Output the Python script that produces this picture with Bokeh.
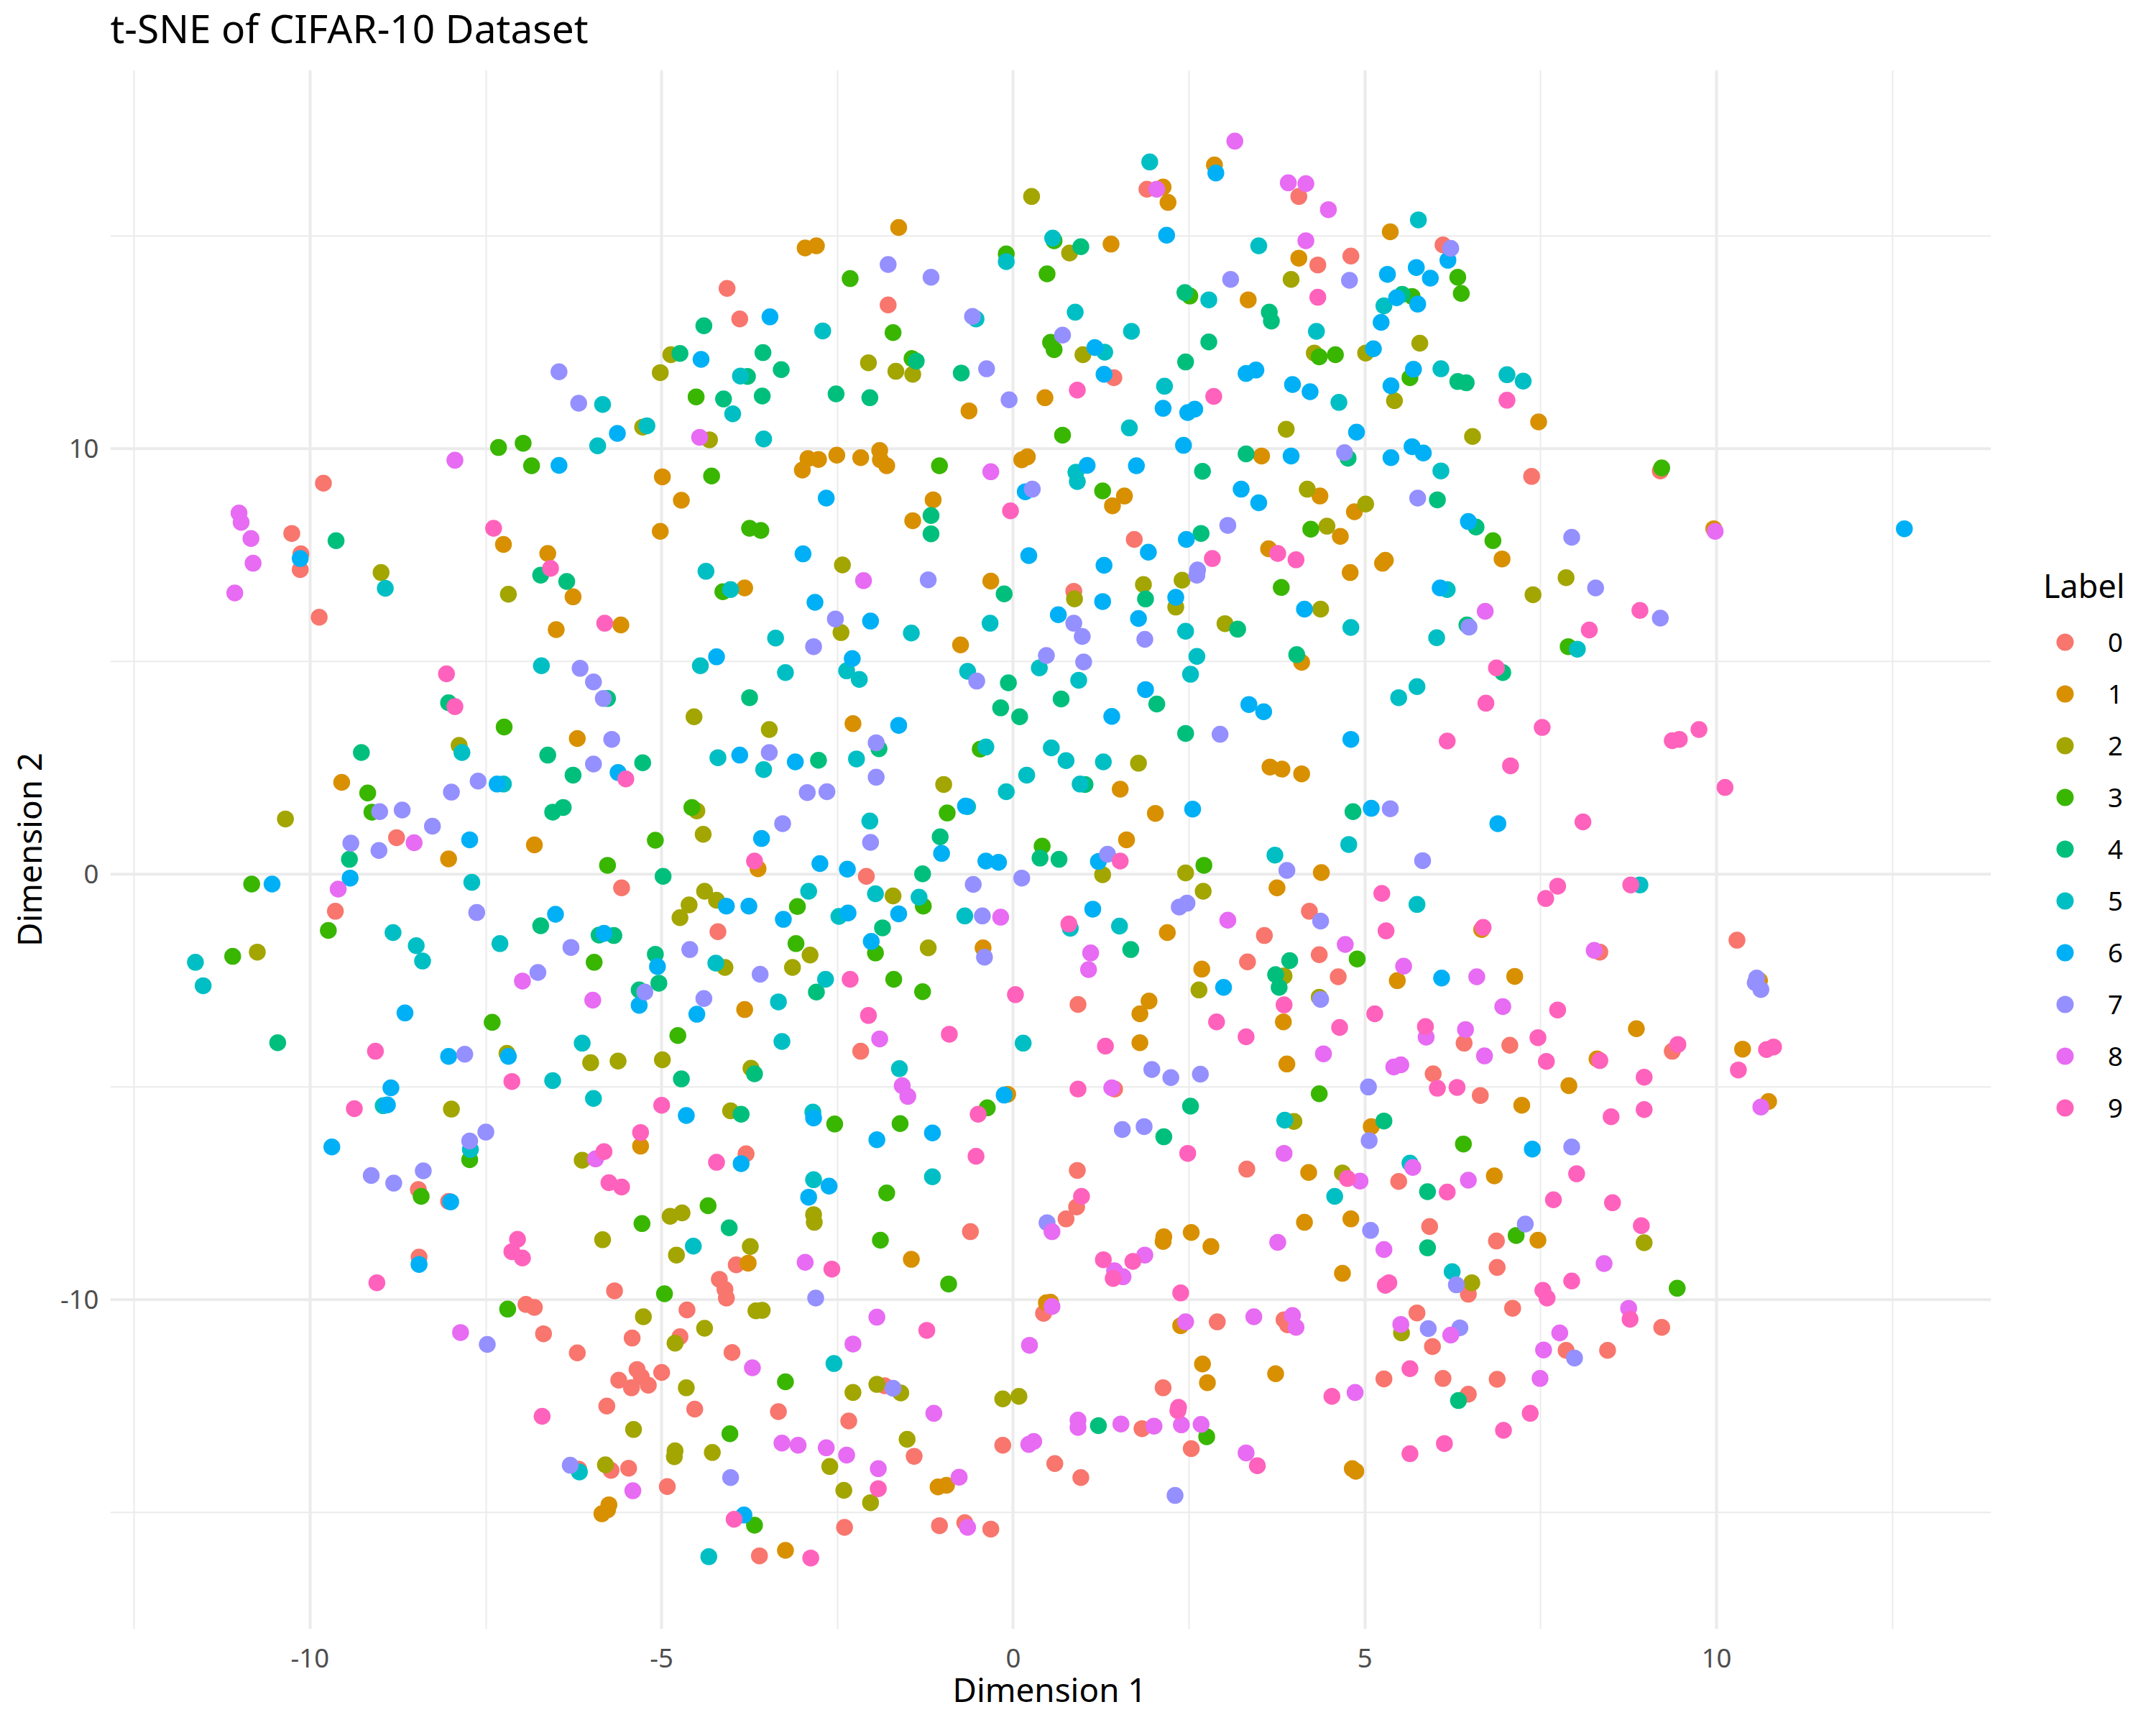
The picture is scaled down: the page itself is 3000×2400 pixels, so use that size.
from bokeh.plotting import figure
from bokeh.models import FixedTicker, Label, Legend, LegendItem, Range1d
from bokeh.embed import file_html
from bokeh.resources import INLINE

TITLE = "t-SNE of CIFAR-10 Dataset"
X_TITLE = "Dimension 1"
Y_TITLE = "Dimension 2"
LEGEND_TITLE = "Label"
LABELS = ["0", "1", "2", "3", "4", "5", "6", "7", "8", "9"]
COLORS = ["#F8766D", "#D89000", "#A3A500", "#39B600", "#00BF7D",
          "#00BFC4", "#00B0F6", "#9590FF", "#E76BF3", "#FF62BC"]

label_0 = [(-9.81,9.19),(-10.26,8.01),(-10.13,7.53),(-10.14,7.16),(-9.87,6.04),(-8.77,0.86),(-5.57,-0.32),
(-9.64,-0.87),(-8.46,-7.41),(-8.03,-7.69),(-8.45,-9.0),(-5.67,-9.79),(-6.93,-10.11),(-6.81,-10.18),(-3.94,-9.18),
(-4.18,-9.52),(-4.1,-9.76),(-4.08,-9.96),(-4.64,-10.24),(-6.68,-10.8),(-6.2,-11.25),(-5.42,-10.9),(-4.74,-10.87),
(-4.0,-11.24),(-5.0,-11.71),(-5.35,-11.64),(-5.29,-11.81),(-5.61,-11.89),(-5.43,-12.07),(-5.19,-12.01),(-5.78,-12.5),
(-4.53,-12.57),(-3.34,-12.63),(-2.34,-12.85),(-6.18,-13.98),(-5.72,-14.01),(-5.47,-13.96),(-4.92,-14.39),(-2.4,-15.35),
(-3.61,-16.02),(-1.05,-15.31),(-0.69,-15.24),(-0.32,-15.39),(-0.15,-13.42),(-1.83,-12.02),(-1.41,-13.68),
(-4.07,13.77),(-3.89,13.05),(-1.78,13.38),(1.43,11.67),(0.86,6.65),(1.72,7.87),(-2.09,-0.05),(-4.2,-1.35),(0.92,-3.06),
(-2.17,-4.16),(1.44,-5.05),(0.91,-6.96),(-3.8,-6.57),(0.9,-7.82),(0.75,-8.1),(-0.61,-8.4),(1.9,16.1),(4.06,15.93),
(4.33,14.32),(4.8,14.53),(6.11,14.79),(7.37,9.35),(4.21,-0.87),(3.57,-1.44),(3.33,-2.06),(4.35,-1.89),(4.62,-2.41),
(8.34,-1.83),(3.32,-6.93),(5.97,-4.69),(6.41,-3.97),(7.06,-4.02),(6.64,-5.2),(9.37,-4.16),(5.48,-7.22),(5.92,-8.28),
(6.87,-8.62),(6.88,-9.24),(6.47,-9.87),(7.1,-10.2),(5.74,-10.31),(9.22,-10.65),(2.9,-10.52),(3.85,-10.47),(3.9,-10.59),
(5.96,-11.1),(7.86,-11.19),(8.45,-11.19),(5.27,-11.86),(6.11,-11.85),(6.88,-11.87),(6.47,-12.22),(2.13,-12.07),
(1.83,-13.03),(2.53,-13.5),(0.96,-14.18),(9.2,9.48),(10.29,-1.55),(0.43,-10.32),(0.59,-13.85)]

label_1 = [(-4.99,9.34),(-4.72,8.79),(-5.02,8.06),(-7.25,7.75),(-6.62,7.54),(-6.26,6.52),(-6.5,5.75),(-5.58,5.86),
(-6.2,3.19),(-9.55,2.16),(-6.81,0.69),(-8.03,0.36),(-5.3,-6.39),(-3.77,-9.14),(-1.45,-9.05),(-5.75,-14.82),(-5.77,-14.94),
(-5.85,-15.03),(-1.07,-14.4),(-0.95,-14.36),(-3.24,-15.89),(-1.63,15.2),(-2.96,14.72),(-2.8,14.77),(1.39,14.81),(0.45,11.2),
(-0.63,10.89),(-2.51,9.85),(-2.92,9.77),(-2.77,9.75),(-3.0,9.5),(-2.17,9.79),(-1.9,9.96),(-1.89,9.74),(-1.8,9.6),(0.12,9.74),
(0.2,9.81),(-0.32,6.89),(-1.14,8.8),(-1.43,8.31),(1.41,8.66),(1.58,8.89),(-3.82,6.73),(-0.75,5.39),(-2.28,3.54),(-3.63,0.13),
(1.52,2.0),(1.61,0.81),(-0.43,-1.73),(-3.82,-3.18),(1.8,-3.28),(1.93,-2.98),(1.8,-3.96),(-0.08,-5.17),(2.86,16.67),(2.13,16.15),
(2.2,15.79),(5.36,15.1),(4.06,14.48),(3.34,13.5),(7.47,10.63),(3.53,9.83),(4.36,8.89),(4.85,8.52),(4.65,7.94),(3.63,7.65),
(6.95,7.41),(5.29,7.38),(5.25,7.31),(4.79,7.09),(4.1,4.98),(3.65,2.52),(3.82,2.47),(4.1,2.36),(2.02,1.43),(4.38,0.04),(3.75,-0.32),
(2.19,-1.37),(2.68,-2.23),(5.46,-2.5),(6.66,-1.3),(7.13,-2.4),(3.84,-3.47),(3.89,-4.46),(8.86,-3.63),(8.3,-4.34),(7.23,-5.43),
(7.9,-4.97),(10.37,-4.11),(4.2,-7.01),(6.84,-7.09),(5.09,-5.93),(4.14,-8.18),(4.8,-8.1),(2.53,-8.42),(2.14,-8.52),(2.13,-8.63),
(2.81,-8.75),(7.46,-8.6),(4.68,-9.38),(2.38,-10.61),(2.69,-11.51),(3.73,-11.74),(2.76,-11.95),(4.82,-13.97),(4.87,-14.03),
(10.61,-2.5),(10.74,-5.34),(0.47,-10.07),(0.53,-10.06),(9.96,8.12)]

label_2 = [(-8.99,7.09),(-7.18,6.58),(-7.88,3.03),(-10.35,1.3),(-10.75,-1.83),(-7.2,-4.21),(-6.01,-4.43),(-5.62,-4.39),(-4.99,-4.36),
(-7.99,-5.52),(-6.13,-6.72),(-4.88,-8.04),(-4.71,-7.96),(-5.84,-8.59),(-4.79,-8.95),(-5.26,-10.4),(-4.39,-10.67),(-3.66,-10.26),
(-3.57,-10.25),(-4.81,-11.02),(-4.65,-12.07),(-5.4,-13.05),(-4.81,-13.55),(-4.82,-13.69),(-4.28,-13.59),(-5.8,-13.88),(-2.61,-13.92),
(-2.41,-14.48),(-2.03,-14.77),(-2.28,-12.18),(-1.94,-11.99),(-1.6,-12.19),(-1.51,-13.28),(-0.15,-12.33),(-4.87,12.21),(-5.02,11.79),
(-2.06,12.02),(-1.67,11.82),(-1.43,11.75),(0.8,14.6),(0.99,12.21),(-5.27,10.51),(-4.32,10.21),(-2.43,7.27),(0.87,6.47),(1.85,6.81),
(-2.45,5.68),(-4.54,3.7),(-3.47,3.4),(-0.99,2.11),(-4.5,1.49),(-4.41,0.94),(-4.39,-0.4),(-4.22,-0.61),(-4.61,-0.72),(-4.74,-1.02),
(-1.71,-0.51),(-2.89,-1.9),(-3.14,-2.19),(-4.1,-2.19),(-1.21,-1.73),(1.78,2.61),(1.27,-0.01),(-3.73,-4.56),(-4.02,-5.56),(-2.84,-8.0),
(-2.83,-8.18),(-3.74,-8.75),(0.26,15.93),(3.95,13.98),(4.28,12.25),(5.01,12.25),(5.78,12.48),(3.88,10.46),(5.42,11.13),(6.53,10.29),
(4.18,9.05),(5.01,8.7),(4.46,8.18),(2.4,6.91),(2.31,6.28),(4.37,6.23),(3.01,5.89),(7.86,6.97),(7.39,6.57),(2.45,0.03),(2.7,-0.4),
(3.85,-2.39),(2.64,-2.72),(4.35,-2.89),(3.99,-5.81),(4.68,-7.02),(8.97,-8.66),(6.52,-9.6),(5.52,-10.78),(0.08,-12.27)]

label_3 = [(-6.85,9.6),(-7.24,3.46),(-9.18,1.91),(-9.12,1.46),(-5.09,0.8),(-5.77,0.21),(-10.83,-0.23),(-11.1,-1.93),(-9.74,-1.32),
(-5.96,-2.07),(-7.41,-3.48),(-4.77,-3.79),(-8.42,-7.57),(-7.73,-6.71),(-5.28,-8.21),(-4.96,-9.86),(-7.19,-10.22),(-0.92,-9.63),
(-3.24,-11.93),(-4.03,-13.15),(-3.68,-15.3),(-2.32,14.0),(-0.1,14.58),(0.58,14.89),(0.48,14.11),(-1.71,12.73),(0.53,12.5),(0.58,12.33),
(-1.44,12.12),(-4.51,11.22),(0.7,10.32),(-4.29,9.36),(-1.05,9.6),(-3.75,8.13),(-3.59,8.08),(1.27,9.01),(-4.13,6.64),(-4.57,1.57),
(-0.47,2.94),(-0.94,1.44),(-3.07,-0.76),(-1.28,-0.75),(-3.09,-1.63),(-1.96,-1.85),(-1.7,-2.47),(-1.29,-2.76),(0.41,0.66),(-2.54,-5.87),
(-1.61,-5.86),(-0.37,-5.49),(-1.8,-7.49),(-1.89,-8.6),(-4.34,-7.79),(2.51,13.59),(4.35,12.16),(4.58,12.21),(5.67,13.58),(6.32,14.03),
(6.37,13.65),(5.64,11.67),(4.23,8.11),(6.82,7.84),(3.81,6.74),(2.71,0.21),(7.89,5.35),(4.89,-1.99),(4.35,-5.16),(6.4,-6.34),(7.15,-8.49),
(9.44,-9.73),(2.75,-13.22),(-7.32,10.03),(-6.97,10.13),(9.22,9.55)]

label_4 = [(-9.63,7.84),(-6.72,7.03),(-6.35,6.88),(-5.77,4.13),(-8.03,4.03),(-9.27,2.86),(-6.62,2.8),(-6.26,2.33),(-5.27,2.62),(-6.4,1.57),
(-6.55,1.46),(-9.44,0.35),(-4.98,-0.05),(-6.72,-1.21),(-5.89,-1.43),(-5.68,-1.44),(-5.09,-1.88),(-5.04,-2.56),(-5.32,-2.72),(-10.46,-3.96),
(-4.72,-4.81),(-4.4,12.89),(-4.74,12.24),(-3.56,12.26),(-3.3,11.86),(-3.78,11.7),(-1.38,12.06),(-0.74,11.78),(0.96,14.75),(-3.57,11.24),
(-4.12,11.17),(-2.52,11.29),(-2.04,11.2),(-1.17,8.43),(-1.17,8.0),(-0.13,6.59),(1.88,6.47),(-3.75,4.15),(-2.77,2.68),(-1.91,2.95),(-0.07,4.5),
(-0.18,3.91),(0.09,3.7),(0.68,4.12),(1.02,2.11),(-1.04,0.88),(0.38,0.38),(0.65,0.35),(-1.29,0.01),(-1.86,-1.26),(-2.8,-2.77),(1.67,-1.77),
(-3.68,-4.69),(-3.87,-5.64),(-4.04,-8.31),(2.44,13.67),(3.64,13.21),(3.67,13.0),(2.78,12.51),(2.45,12.04),(5.53,13.63),(6.32,11.58),(6.44,11.55),
(3.31,9.88),(2.69,9.47),(6.03,8.8),(4.76,9.78),(2.67,8.01),(6.58,8.16),(3.19,5.76),(4.03,5.16),(6.45,5.86),(2.04,4.0),(2.45,3.31),(4.83,1.47),
(3.93,-2.03),(3.73,-2.36),(3.78,-2.66),(6.96,4.74),(2.52,-5.45),(2.14,-6.17),(5.27,-5.8),(5.89,-7.46),(5.89,-8.78),(1.21,-12.96),(6.33,-12.37)]

label_5 = [(-8.93,6.72),(-6.71,4.9),(-7.84,2.86),(-7.25,2.12),(-7.7,-0.19),(-11.63,-2.07),(-11.52,-2.62),(-8.82,-1.37),(-8.49,-1.68),(-8.4,-2.04),
(-7.3,-1.63),(-6.13,-3.97),(-6.55,-4.85),(-5.97,-5.27),(-8.96,-5.44),(-7.72,-6.47),(-6.17,-14.05),(-4.33,-16.04),(-2.55,-11.5),(-5.84,11.04),
(-5.91,10.07),(-5.21,10.54),(-3.99,10.82),(-3.55,10.23),(-3.88,11.71),(-2.71,12.77),(-0.53,13.05),(-0.1,14.4),(0.56,14.95),(0.88,13.21),
(1.68,12.76),(1.3,12.27),(1.65,10.49),(0.89,9.45),(0.91,9.23),(-4.37,7.12),(-4.02,6.69),(-3.38,5.55),(-1.45,5.67),(-0.33,5.9),(-4.45,4.9),
(-3.24,4.74),(-2.37,4.78),(-2.19,4.58),(-0.65,4.77),(0.37,4.85),(0.93,4.56),(-4.2,2.74),(-3.55,2.46),(-2.23,2.71),(-0.39,2.99),(0.54,2.97),
(0.75,2.67),(1.28,2.64),(0.19,2.33),(-0.1,1.94),(0.95,2.12),(-0.65,1.59),(-2.04,1.25),(-2.91,-0.4),(-1.96,-0.46),(-1.34,-0.54),(-2.48,-0.99),
(-0.69,-0.98),(0.81,-1.27),(1.51,-1.22),(-4.23,-2.09),(-2.67,-2.47),(-3.34,-3.0),(-3.29,-3.93),(0.14,-3.97),(-1.62,-4.57),(-2.85,-5.59),
(-2.84,-7.18),(-1.15,-7.11),(-4.55,-8.74),(1.94,16.74),(3.49,14.77),(5.76,15.38),(2.78,13.5),(4.31,12.76),(6.08,11.88),(5.27,13.36),(2.15,11.47),
(4.63,11.09),(7.02,11.74),(7.25,11.59),(6.08,9.48),(6.17,6.69),(4.8,5.8),(2.45,5.71),(2.61,5.12),(2.52,4.7),(6.02,5.56),(5.74,4.41),(5.48,4.15),
(8.02,5.29),(3.72,0.45),(4.77,0.7),(5.74,-0.71),(8.91,-0.25),(3.86,-5.78),(5.64,-6.79),(4.57,-7.57),(6.24,-9.34)]

label_6 = [(-6.46,9.61),(-10.14,7.42),(-7.34,2.12),(-5.62,2.39),(-7.73,0.81),(-9.43,-0.09),(-10.54,-0.23),(-6.51,-0.94),(-5.82,-1.39),(-5.06,-2.17),
(-5.32,-3.08),(-8.65,-3.26),(-8.03,-4.28),(-7.18,-4.28),(-8.85,-5.02),(-8.9,-5.42),(-9.69,-6.41),(-4.65,-5.67),(-8.0,-7.7),(-8.45,-9.17),(-3.83,-15.06),
(-3.46,13.1),(-4.44,12.1),(-5.63,10.36),(1.16,12.38),(1.29,11.75),(1.05,9.61),(1.75,9.6),(0.17,8.99),(-2.66,8.84),(-2.99,7.53),(0.22,7.49),(1.29,7.26),
(1.92,7.57),(-2.82,6.39),(-2.03,5.95),(0.64,6.1),(1.27,6.41),(1.78,6.01),(-4.22,5.11),(-2.29,5.07),(-1.63,3.5),(1.88,4.34),(1.4,3.71),(-3.58,0.84),
(-1.02,0.49),(-2.75,0.25),(-2.36,0.12),(-0.39,0.31),(-0.21,0.28),(1.21,0.3),(-4.08,-0.75),(-3.76,-0.75),(-3.27,-1.06),(-2.35,-0.91),(-1.63,-0.93),
(1.13,-0.82),(-2.02,-1.58),(-3.89,2.8),(-3.1,2.64),(-4.5,-3.29),(-0.68,1.6),(-2.84,-5.73),(-1.94,-6.24),(-1.15,-6.08),(-0.13,-5.19),(-3.87,-6.8),
(-2.62,-7.33),(-2.91,-7.59),(2.88,16.48),(2.18,15.02),(5.32,14.1),(5.73,14.26),(5.93,14.01),(6.18,14.43),(5.45,13.55),(5.75,13.4),(5.23,12.97),
(5.12,12.35),(3.31,11.77),(3.45,11.85),(3.97,11.51),(4.22,11.34),(5.69,11.87),(5.37,11.48),(2.13,10.95),(2.58,10.93),(2.48,10.85),(4.88,10.39),
(2.42,10.08),(3.95,9.83),(5.37,9.79),(5.67,10.05),(5.83,9.9),(3.24,9.05),(3.49,8.73),(6.47,8.29),(2.46,7.87),(2.31,6.51),(4.14,6.23),(6.07,6.73),
(3.35,3.99),(3.56,3.82),(4.8,3.17),(2.55,1.53),(5.09,1.55),(6.89,1.19),(2.99,-2.66),(6.09,-2.44),(7.38,-6.46),(12.67,8.12)]

label_7 = [(-6.16,4.84),(-5.97,4.52),(-5.83,4.13),(-5.71,3.17),(-5.97,2.59),(-7.61,2.19),(-7.99,1.93),(-9.01,1.47),(-8.69,1.51),(-8.26,1.13),(-9.42,0.73),
(-9.02,0.56),(-7.63,-0.9),(-6.29,-1.72),(-6.76,-2.31),(-5.24,-2.77),(-7.8,-4.23),(-7.5,-6.06),(-7.73,-6.27),(-8.39,-6.97),(-9.13,-7.08),(-8.81,-7.26),
(-7.48,-11.05),(-6.3,-13.89),(-4.02,-14.18),(-2.81,-9.96),(-1.71,-12.08),(-1.78,14.33),(-1.17,14.03),(-0.58,13.11),(-0.38,11.88),(0.7,12.67),(-0.06,11.15),
(-6.18,11.07),(-6.46,11.81),(0.27,9.05),(-1.21,6.92),(-2.53,6.0),(0.86,5.9),(0.98,5.59),(-2.84,5.35),(1.87,5.52),(0.47,5.14),(1.0,4.99),(-0.52,4.54),
(-3.47,2.86),(-1.95,3.09),(-1.95,2.28),(-2.93,1.92),(-2.65,1.94),(-3.28,1.19),(-2.03,0.75),(1.34,0.47),(0.12,-0.09),(-0.57,-0.24),(-0.44,-0.98),
(-4.6,-1.77),(-3.6,-2.35),(-4.4,-2.92),(-0.41,-1.95),(0.48,-8.19),(3.09,13.98),(4.78,13.96),(6.22,14.71),(4.71,9.91),(5.75,8.84),(3.05,8.2),(7.94,7.92),
(2.62,7.15),(2.61,7.03),(8.28,6.73),(6.48,5.81),(2.94,3.29),(5.36,1.54),(5.82,0.32),(3.89,0.09),(2.47,-0.68),(2.36,-0.77),(4.37,-1.1),(4.37,-2.94),
(1.97,-4.59),(2.24,-4.78),(2.66,-4.7),(5.05,-5.0),(1.55,-6.0),(1.86,-5.93),(5.06,-6.26),(7.94,-6.41),(5.08,-8.37),(7.28,-8.22),(6.3,-9.65),(5.9,-10.68),
(6.35,-10.66),(7.98,-11.37),(2.3,-14.6),(10.57,-2.44),(10.63,-2.71),(10.55,-2.55),(9.2,6.02)]

label_8 = [(-7.94,9.73),(-11.01,8.49),(-10.98,8.27),(-10.84,7.89),(-10.81,7.31),(-11.07,6.61),(-8.52,0.74),(-9.6,-0.35),(-6.98,-2.51),(-5.98,-2.96),
(-5.94,-6.69),(-7.86,-10.77),(-3.71,-11.6),(-2.96,-9.12),(-2.28,-11.04),(-1.94,-10.41),(-5.41,-14.49),(-3.29,-13.37),(-3.06,-13.42),(-2.66,-13.48),
(-2.37,-13.65),(-1.92,-13.97),(-0.77,-14.17),(-1.13,-12.67),(-0.65,-15.35),(-4.46,10.27),(-2.13,6.9),(-0.32,9.46),(-0.18,-1.01),(1.1,-1.85),(1.07,-2.24),
(-1.9,-3.87),(-1.58,-4.97),(-1.5,-5.22),(1.4,-5.02),(0.55,-8.4),(1.87,-8.95),(1.56,-9.46),(1.44,-9.32),(3.15,17.23),(2.04,16.1),(3.91,16.25),(4.16,16.23),
(4.48,15.62),(4.16,14.89),(6.71,6.18),(3.05,-1.08),(4.72,-1.65),(5.55,-2.16),(6.59,-2.41),(8.26,-1.79),(6.96,-3.11),(6.43,-3.65),(5.87,-3.83),(6.7,-4.27),
(4.41,-4.22),(5.41,-4.53),(5.51,-4.48),(3.85,-6.56),(5.68,-6.89),(4.93,-7.21),(6.47,-7.19),(3.76,-8.65),(5.27,-8.82),(8.4,-9.15),(8.75,-10.2),(2.45,-10.52),
(3.42,-10.4),(3.97,-10.37),(4.02,-10.65),(5.51,-10.58),(6.22,-10.83),(7.77,-10.78),(7.54,-11.18),(7.49,-11.85),(4.86,-12.18),(0.92,-12.83),(0.92,-13.0),
(1.53,-12.92),(2.0,-12.97),(2.39,-12.94),(2.67,-12.93),(3.31,-13.6),(10.63,-5.47),(0.23,-11.07),(0.22,-13.4),(0.29,-13.33),(0.55,-10.16),(9.98,8.06)]

label_9 = [(-7.39,8.13),(-6.58,7.19),(-5.81,5.9),(-8.06,4.71),(-7.94,3.94),(-5.51,2.24),(-9.07,-4.16),(-9.37,-5.51),(-7.13,-4.87),(-5.0,-5.43),(-5.3,-6.07),
(-5.82,-6.52),(-5.75,-7.25),(-5.57,-7.35),(-7.05,-8.58),(-7.13,-8.87),(-6.98,-9.02),(-9.05,-9.6),(-2.58,-9.28),(-1.23,-10.72),(-6.7,-12.74),(-3.97,-15.16),
(-2.88,-16.07),(-1.92,-14.44),(0.91,11.38),(-0.04,8.54),(-3.68,0.31),(1.52,0.31),(0.79,-1.17),(-2.32,-2.47),(0.03,-2.83),(-2.06,-3.32),(-0.91,-3.76),
(1.31,-4.04),(-4.22,-6.77),(-0.5,-5.64),(-0.53,-6.63),(0.92,-5.05),(0.97,-7.57),(1.28,-9.06),(1.7,-9.1),(1.42,-9.5),(4.33,13.56),(2.85,11.23),(7.02,11.14),
(2.83,7.42),(4.02,7.39),(3.76,7.54),(8.91,6.2),(8.19,5.74),(6.87,4.85),(6.72,4.02),(7.52,3.45),(6.17,3.13),(7.07,2.55),(8.1,1.23),(7.74,-0.28),(7.57,-0.57),
(8.78,-0.25),(5.24,-0.45),(5.3,-1.33),(6.68,-1.25),(3.85,-3.07),(5.14,-3.28),(2.89,-3.47),(3.31,-3.82),(4.64,-3.6),(5.86,-3.58),(7.74,-3.19),(7.46,-3.84),
(7.58,-4.4),(8.34,-4.38),(9.45,-4.0),(8.97,-4.77),(6.03,-5.03),(6.31,-5.01),(2.48,-6.56),(8.97,-5.53),(8.5,-5.7),(4.75,-7.15),(6.17,-7.47),(8.01,-7.04),
(7.68,-7.65),(8.52,-7.72),(8.93,-8.26),(2.38,-9.84),(5.29,-9.66),(5.34,-9.6),(7.53,-9.78),(7.59,-9.96),(7.94,-9.56),(8.77,-10.46),(5.64,-11.62),(4.53,-12.27),
(7.35,-12.67),(6.97,-13.07),(6.13,-13.38),(5.64,-13.62),(3.47,-13.9),(2.35,-12.53),(2.34,-12.61),(10.71,-4.12),(10.81,-4.06),(10.31,-4.6),(9.37,3.14),(9.47,3.17),
(9.75,3.4),(10.12,2.04)]

SERIES = [label_0, label_1, label_2, label_3, label_4, label_5, label_6, label_7, label_8, label_9]

X_MAJOR = [-10, -5, 0, 5, 10]
X_MINOR = [-12.5, -7.5, -2.5, 2.5, 7.5, 12.5]
Y_MAJOR = [-10, 0, 10]
Y_MINOR = [-15, -5, 5, 15]
X_PANEL = (-12.84, 13.90)

FONT = "Noto Sans"
GRID = "#EBEBEB"

# The frame runs on to the page edge so that the legend can sit in the blank
# strip to the right of the drawn panel.
p = figure(width=2984, height=2384, output_backend="svg", toolbar_location=None,
           x_range=Range1d(-12.84, 16.09), y_range=Range1d(-17.74, 18.90),
           min_border_left=153, min_border_right=0, min_border_top=97, min_border_bottom=118,
           y_axis_label=Y_TITLE)
p.outline_line_color = None
p.background_fill_color = "white"
p.border_fill_color = "white"

for ax, ticks, minor in ((p.xaxis[0], X_MAJOR, X_MINOR), (p.yaxis[0], Y_MAJOR, Y_MINOR)):
    ax.ticker = FixedTicker(ticks=ticks, minor_ticks=minor)
    ax.major_label_overrides = {t: str(t) for t in ticks}
    ax.axis_line_color = None
    ax.major_tick_line_color = None
    ax.minor_tick_line_color = None
    ax.major_label_text_font = FONT
    ax.major_label_text_font_size = "36.6px"
    ax.major_label_text_color = "#4D4D4D"
    ax.axis_label_text_font = FONT
    ax.axis_label_text_font_size = "45.8px"
    ax.axis_label_text_font_style = "normal"
    ax.axis_label_text_color = "#000000"
    ax.major_tick_in = 0
    ax.major_tick_out = 0
p.xaxis[0].major_label_standoff = 23
p.yaxis[0].major_label_standoff = 12
p.yaxis[0].axis_label_standoff = 10

g = p.xgrid[0]
g.ticker = FixedTicker(ticks=X_MAJOR, minor_ticks=X_MINOR)
g.grid_line_color = GRID
g.grid_line_width = 4
g.minor_grid_line_color = GRID
g.minor_grid_line_width = 2

# Horizontal grid lines stop at the panel's right edge.
p.ygrid[0].visible = False
for ticks, lw in ((Y_MINOR, 2), (Y_MAJOR, 4)):
    p.segment(x0=[X_PANEL[0]] * len(ticks), x1=[X_PANEL[1]] * len(ticks), y0=ticks, y1=ticks,
              line_color=GRID, line_width=lw, level="underlay")

items = []
for name, color, pts in zip(LABELS, COLORS, SERIES):
    xs = [a for a, _ in pts]
    ys = [b for _, b in pts]
    r = p.scatter(xs, ys, size=23.5, marker="circle", fill_color=color, line_color=None)
    items.append(LegendItem(label=name, renderers=[r]))

legend = Legend(items=items, title=LEGEND_TITLE, location=(2690, 695),
                padding=0, margin=0, spacing=12, glyph_width=60, glyph_height=60,
                label_standoff=30, label_height=60, title_standoff=18,
                label_text_font=FONT, label_text_font_size="36.6px", label_text_color="#000000",
                title_text_font=FONT, title_text_font_size="45px", title_text_font_style="normal",
                title_text_color="#000000", border_line_color=None,
                background_fill_alpha=0)
p.add_layout(legend, "center")

# Title and x axis title sit in the side panels, where they are not clipped.
p.add_layout(Label(x=0, y=59, x_units="screen", y_units="screen", text=TITLE,
                   text_align="left", text_baseline="middle", text_font=FONT,
                   text_font_size="55px", text_color="#000000"), "above")
p.add_layout(Label(x=1307, y=35, x_units="screen", y_units="screen", text=X_TITLE,
                   text_align="center", text_baseline="middle", text_font=FONT,
                   text_font_size="45.8px", text_color="#000000"), "below")

open("out.html", "w").write(file_html(p, INLINE))
